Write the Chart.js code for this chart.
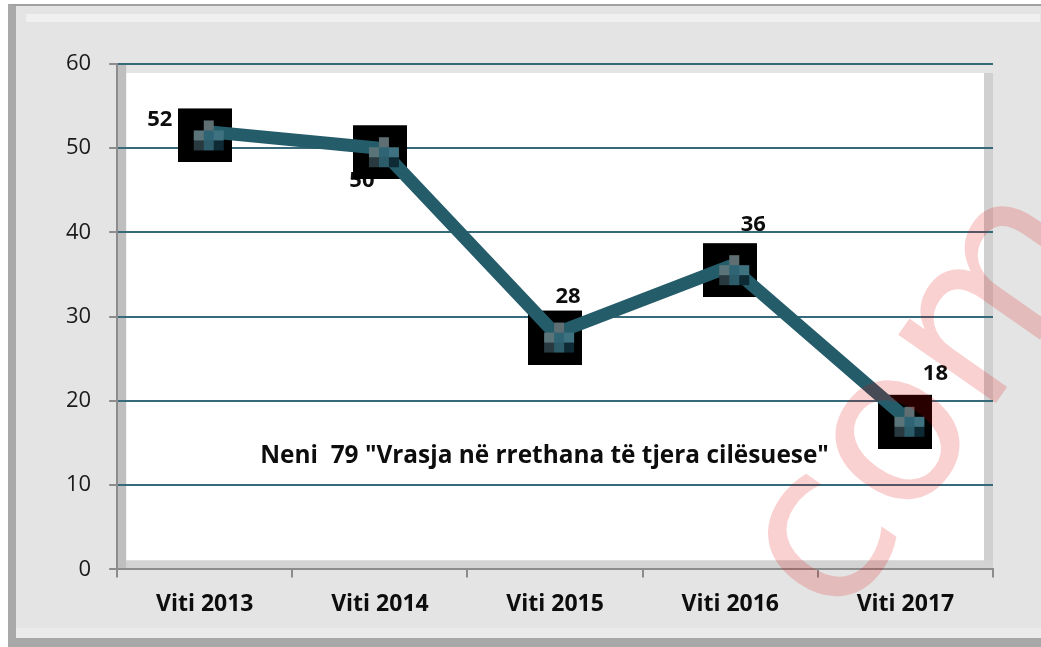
<!DOCTYPE html>
<html>
<head>
<meta charset="utf-8">
<script src="https://cdn.jsdelivr.net/npm/chart.js@4/dist/chart.umd.min.js"></script>
<style>
  html,body{margin:0;padding:0;background:#ffffff;width:1041px;height:647px;overflow:hidden;}
  #frame{position:absolute;left:8px;top:4px;width:1100px;height:643px;box-sizing:border-box;background:#e4e4e4;
    border-left:8px solid #a9a9a9;border-top:2px solid #a0a0a0;border-bottom:9px solid #a8a8a8;}
  #bandTop{position:absolute;left:26px;top:14px;width:1014px;height:8px;background:#f0f0f0;}
  #bandBot{position:absolute;left:16px;top:628px;width:1025px;height:10px;background:#ebebeb;}
  #wrap{position:absolute;left:0;top:0;width:1041px;height:647px;}
</style>
</head>
<body>
<div id="frame"></div>
<div id="bandTop"></div>
<div id="bandBot"></div>
<div id="wrap"><canvas id="c" width="1041" height="647"></canvas></div>
<script>
// ---- data ----
const categories = ['Viti 2013', 'Viti 2014', 'Viti 2015', 'Viti 2016', 'Viti 2017'];
const values = [52, 50, 28, 36, 18];
const yMin = 0, yMax = 60, yStep = 10;
const chartTitle = 'Neni  79 "Vrasja në rrethana të tjera cilësuese"';
const watermarkText = 'com';

// ---- styling ----
const labelOffsets = [[-45, -12], [-18, 33], [13, -37], [23, -41], [30, -44]];
const lineColor = '#255c6a';
const gridColor = '#36697a';
const axisGray = '#8c8c8c';

function makeSquare() {
  const c = document.createElement('canvas');
  c.width = 54; c.height = 62;
  const g = c.getContext('2d');
  g.fillStyle = '#000000';
  g.fillRect(0, 8, 54, 54);
  return c;
}
function makeCross() {
  const c = document.createElement('canvas');
  c.width = 54; c.height = 62;
  const g = c.getContext('2d');
  const cells = [
    [null, '#5f6e73', null],
    ['#5a7479', '#2f6474', '#3f7280'],
    ['#283a3f', '#2c5b69', '#0e2a34']
  ];
  for (let r = 0; r < 3; r++) for (let q = 0; q < 3; q++) {
    if (!cells[r][q]) continue;
    g.fillStyle = cells[r][q];
    g.fillRect(16 + q * 10, 8 + 12 + r * 10, 10, 10);
  }
  return c;
}
const squareImg = makeSquare();
const crossImg = makeCross();

const decoPlugin = {
  id: 'deco',
  beforeDraw(chart) {
    const { ctx, chartArea: a } = chart;
    ctx.save();
    const w = 9;
    ctx.fillStyle = '#ffffff';
    ctx.fillRect(a.left + w, a.top + w, a.right - a.left - 2 * w, a.bottom - a.top - 2 * w);
    ctx.fillStyle = '#d0d0d0';
    ctx.fillRect(a.right - w, a.top + w, w, a.bottom - a.top - w);
    ctx.fillStyle = '#d3d3d3';
    ctx.fillRect(a.left, a.bottom - w, a.right - a.left, w);
    ctx.fillStyle = '#bfbfbf';
    ctx.fillRect(a.left, a.top, w, a.bottom - a.top);
    ctx.restore();
  },
  beforeDatasetsDraw(chart) {
    const { ctx, chartArea: a } = chart;
    ctx.save();
    ctx.fillStyle = '#0d0d0d';
    ctx.font = 'bold 24.4px "Open Sans"';
    ctx.textAlign = 'center';
    ctx.textBaseline = 'middle';
    ctx.fillText(chartTitle, a.left + (a.right - a.left) * 0.488, chart.scales.y.getPixelForValue(13.5));
    // data labels
    const meta = chart.getDatasetMeta(1);
    ctx.font = 'bold 22px "Open Sans"';
    meta.data.forEach((pt, i) => {
      ctx.fillText(String(values[i]), pt.x + labelOffsets[i][0], pt.y + labelOffsets[i][1]);
    });
    ctx.restore();
  },
  afterDraw(chart) {
    const { ctx } = chart;
    ctx.save();
    const em = 218;
    ctx.font = em + 'px "DejaVu Sans"';
    ctx.fillStyle = 'rgba(228,0,0,0.18)';
    ctx.translate(898, 440);
    ctx.rotate(-55 * Math.PI / 180);
    ctx.textBaseline = 'alphabetic';
    ctx.textAlign = 'left';
    ctx.fillText(watermarkText, -0.856 * em, 0.27 * em);
    ctx.restore();
  }
};

new Chart(document.getElementById('c'), {
  type: 'line',
  data: {
    labels: categories,
    datasets: [
      {
        data: values,
        showLine: false,
        pointStyle: squareImg,
        order: 2
      },
      {
        data: values,
        borderColor: lineColor,
        borderWidth: 13,
        borderJoinStyle: 'round',
        tension: 0,
        pointStyle: crossImg,
        order: 1
      }
    ]
  },
  options: {
    responsive: false,
    animation: false,
    devicePixelRatio: 1,
    layout: { padding: { left: 48, top: 64, right: 48, bottom: 16 } },
    plugins: { legend: { display: false }, tooltip: { enabled: false } },
    scales: {
      x: {
        offset: true,
        grid: { display: true, drawOnChartArea: false, offset: true, drawTicks: true, tickLength: 8, color: axisGray, lineWidth: 2 },
        border: { display: true, color: axisGray, width: 2 },
        ticks: { font: { family: 'Open Sans', size: 23, weight: 'bold' }, color: '#0d0d0d', padding: 13, maxRotation: 0 }
      },
      y: {
        min: yMin, max: yMax,
        grid: {
          color: (c) => (c.tick && c.tick.value === 0) ? 'rgba(0,0,0,0)' : gridColor,
          lineWidth: 2, drawTicks: true, tickLength: 8, tickColor: axisGray, tickWidth: 2
        },
        border: { display: true, color: axisGray, width: 2 },
        ticks: { stepSize: yStep, font: { family: 'Open Sans', size: 22 }, color: '#1a1a1a', padding: 18 }
      }
    }
  },
  plugins: [decoPlugin]
});
</script>
</body>
</html>
